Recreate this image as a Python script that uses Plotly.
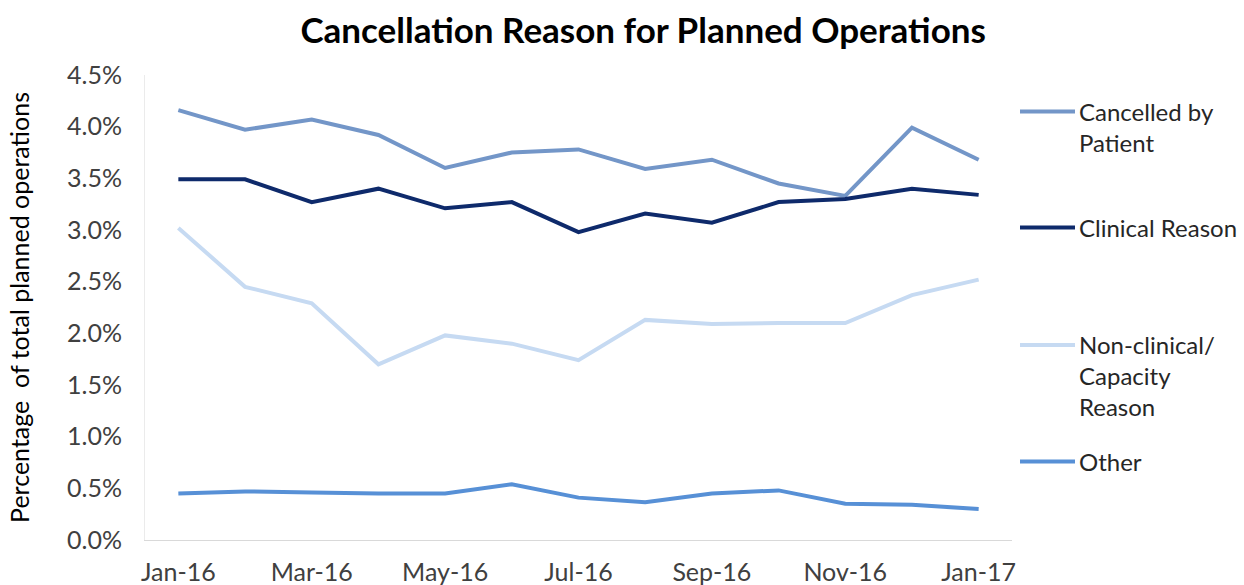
import plotly.graph_objects as go

months = ["Jan-16", "Feb-16", "Mar-16", "Apr-16", "May-16", "Jun-16", "Jul-16",
          "Aug-16", "Sep-16", "Oct-16", "Nov-16", "Dec-16", "Jan-17"]
tick_labels = months[::2]

cancelled_by_patient = [4.16, 3.97, 4.07, 3.92, 3.60, 3.75, 3.78, 3.59, 3.68, 3.45, 3.33, 3.99, 3.68]
clinical_reason = [3.49, 3.49, 3.27, 3.40, 3.21, 3.27, 2.98, 3.16, 3.07, 3.27, 3.30, 3.40, 3.34]
non_clinical = [3.02, 2.45, 2.29, 1.70, 1.98, 1.90, 1.74, 2.13, 2.09, 2.10, 2.10, 2.37, 2.52]
other = [0.45, 0.47, 0.46, 0.45, 0.45, 0.54, 0.41, 0.365, 0.45, 0.48, 0.35, 0.34, 0.30]

series_names = ["Cancelled by<br>Patient", "Clinical Reason", "Non-clinical/<br>Capacity<br>Reason", "Other"]
series_values = [cancelled_by_patient, clinical_reason, non_clinical, other]
colors = ["#7396C8", "#0E2A6B", "#C6DAF2", "#5790D6"]

FONT = "Lato"
TXT = "#262626"
TICK = "#404040"

fig = go.Figure()
for name, vals, col in zip(series_names, series_values, colors):
    fig.add_trace(go.Scatter(x=months, y=vals, mode="lines", name=name,
                             line=dict(color=col, width=4), showlegend=False,
                             hovertemplate="%{x}: %{y:.2f}%<extra></extra>"))

# custom legend (right side)
W, H = 1244, 585
ml, mr, mt, mb = 145, 232, 75, 45
pw, ph = W - ml - mr, H - mt - mb

def px_to_paper_x(px):
    return (px - ml) / pw

def py_to_paper_y(py):
    return 1 - (py - mt) / ph

legend_y = [111.5, 227.5, 345, 461.5]
for name, col, ly in zip(series_names, colors, legend_y):
    y0 = py_to_paper_y(ly)
    fig.add_shape(type="line", xref="paper", yref="paper",
                  x0=px_to_paper_x(1020), x1=px_to_paper_x(1075), y0=y0, y1=y0,
                  line=dict(color=col, width=4))
    fig.add_annotation(xref="paper", yref="paper", x=px_to_paper_x(1077),
                       y=py_to_paper_y(ly - 17), xanchor="left", yanchor="top",
                       text=name, showarrow=False, align="left",
                       font=dict(family=FONT, size=24, color=TXT))

fig.update_layout(
    width=W, height=H,
    margin=dict(l=ml, r=mr, t=mt, b=mb, autoexpand=False),
    paper_bgcolor="white", plot_bgcolor="white",
    title=dict(text="<b>Cancellation Reason for Planned Operations</b>",
               x=0.517, xanchor="center", y=0.948, yanchor="middle",
               font=dict(family=FONT, size=35, color="#000000")),
    font=dict(family=FONT, size=24, color=TXT),
)
fig.update_xaxes(type="category", range=[-0.5, 12.5], tickmode="array",
                 tickvals=tick_labels, ticktext=tick_labels, automargin=False,
                 showgrid=False, showline=True, linecolor="#D9D9D9", linewidth=1,
                 ticks="outside", ticklen=10, tickcolor="rgba(0,0,0,0)",
                 tickfont=dict(family=FONT, size=25, color=TICK), zeroline=False)
fig.update_yaxes(range=[0, 4.5], tickmode="array", automargin=False,
                 tickvals=[0, 0.5, 1, 1.5, 2, 2.5, 3, 3.5, 4, 4.5],
                 ticktext=["0.0%", "0.5%", "1.0%", "1.5%", "2.0%", "2.5%", "3.0%", "3.5%", "4.0%", "4.5%"],
                 showgrid=False, showline=True, linecolor="#EBEBEB", linewidth=1,
                 ticks="outside", ticklen=17, tickcolor="rgba(0,0,0,0)",
                 tickfont=dict(family=FONT, size=25, color=TICK), zeroline=False,
                 title=dict(text="Percentage  of total planned operations", standoff=30,
                            font=dict(family=FONT, size=25, color="#000000")))

fig.write_html("out.html", config={"displayModeBar": False},
               post_script="document.body.style.margin='0';")
